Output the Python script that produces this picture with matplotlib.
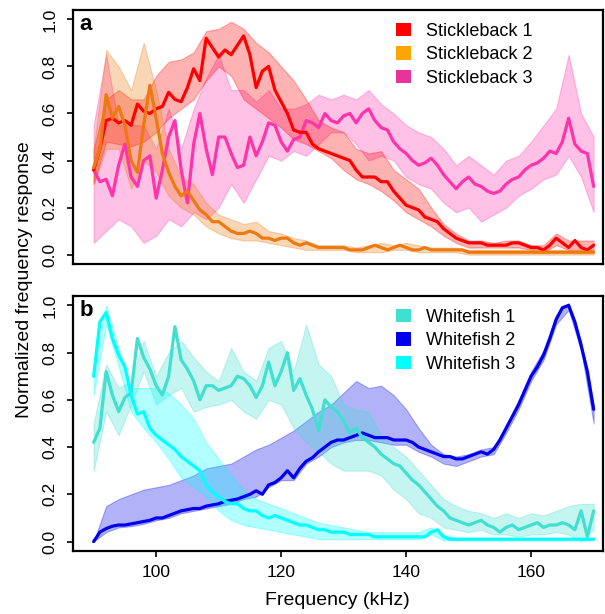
import matplotlib
matplotlib.use("Agg")
import matplotlib.pyplot as plt
from matplotlib.patches import Patch

plt.rcParams["font.family"] = ["Liberation Sans", "DejaVu Sans"]

freq = list(range(90, 171))
band_freq = list(range(90, 171, 2))

# ---- panel a: stickleback ----
stk1 = [0.36, 0.45, 0.57, 0.58, 0.56, 0.57, 0.55, 0.64, 0.61, 0.60,
        0.62, 0.63, 0.69, 0.66, 0.65, 0.71, 0.79, 0.74, 0.92, 0.88,
        0.84, 0.87, 0.85, 0.89, 0.93, 0.85, 0.71, 0.78, 0.80, 0.70,
        0.65, 0.60, 0.53, 0.52, 0.52, 0.47, 0.45, 0.44, 0.43, 0.42,
        0.41, 0.40, 0.36, 0.33, 0.33, 0.33, 0.31, 0.31, 0.27, 0.24,
        0.21, 0.20, 0.19, 0.16, 0.15, 0.14, 0.11, 0.09, 0.07, 0.06,
        0.05, 0.05, 0.05, 0.04, 0.04, 0.04, 0.04, 0.05, 0.05, 0.04,
        0.03, 0.03, 0.02, 0.04, 0.07, 0.05, 0.03, 0.06, 0.03, 0.02,
        0.04]
stk1_lo = [0.30, 0.48, 0.47, 0.46, 0.48, 0.52, 0.58, 0.62, 0.66, 0.74,
           0.80, 0.76, 0.66, 0.62, 0.58, 0.54, 0.49, 0.47, 0.44, 0.41,
           0.36, 0.32, 0.30, 0.27, 0.23, 0.18, 0.15, 0.12, 0.08, 0.05,
           0.03, 0.03, 0.03, 0.03, 0.03, 0.02, 0.01, 0.04, 0.02, 0.01,
           0.02]
stk1_hi = [0.45, 0.66, 0.70, 0.66, 0.66, 0.76, 0.82, 0.83, 0.86, 0.95,
           0.96, 0.99, 0.96, 0.90, 0.86, 0.80, 0.74, 0.66, 0.57, 0.54,
           0.52, 0.45, 0.43, 0.44, 0.36, 0.32, 0.28, 0.20, 0.13, 0.09,
           0.06, 0.06, 0.05, 0.06, 0.06, 0.04, 0.04, 0.09, 0.06, 0.06,
           0.06]

stk2 = [0.37, 0.45, 0.68, 0.58, 0.63, 0.55, 0.40, 0.35, 0.55, 0.72,
        0.58, 0.43, 0.35, 0.29, 0.25, 0.27, 0.23, 0.19, 0.17, 0.14,
        0.14, 0.12, 0.10, 0.09, 0.09, 0.10, 0.09, 0.07, 0.07, 0.06,
        0.07, 0.07, 0.05, 0.04, 0.05, 0.04, 0.03, 0.03, 0.03, 0.03,
        0.03, 0.02, 0.02, 0.02, 0.03, 0.04, 0.03, 0.02, 0.03, 0.04,
        0.03, 0.02, 0.02, 0.03, 0.02, 0.02, 0.02, 0.02, 0.02, 0.02,
        0.01, 0.01, 0.01, 0.01, 0.01, 0.01, 0.01, 0.01, 0.01, 0.01,
        0.01, 0.01, 0.01, 0.01, 0.01, 0.01, 0.01, 0.01, 0.01, 0.01,
        0.01]
stk2_lo = [0.30, 0.45, 0.45, 0.28, 0.40, 0.35, 0.25, 0.20, 0.17, 0.12,
           0.09, 0.07, 0.06, 0.06, 0.05, 0.04, 0.03, 0.02, 0.02, 0.02,
           0.02, 0.01, 0.01, 0.01, 0.02, 0.02, 0.01, 0.01, 0.01, 0.01,
           0.00, 0.00, 0.00, 0.00, 0.00, 0.00, 0.00, 0.00, 0.00, 0.00,
           0.00]
stk2_hi = [0.45, 0.87, 0.80, 0.70, 0.90, 0.70, 0.45, 0.33, 0.30, 0.22,
           0.17, 0.15, 0.13, 0.14, 0.10, 0.09, 0.07, 0.06, 0.04, 0.04,
           0.04, 0.03, 0.04, 0.05, 0.04, 0.05, 0.04, 0.03, 0.03, 0.03,
           0.02, 0.02, 0.02, 0.02, 0.02, 0.02, 0.02, 0.02, 0.02, 0.02,
           0.02]

stk3 = [0.36, 0.31, 0.32, 0.25, 0.38, 0.47, 0.33, 0.29, 0.40, 0.42,
        0.24, 0.36, 0.50, 0.57, 0.36, 0.22, 0.47, 0.60, 0.45, 0.34,
        0.50, 0.50, 0.43, 0.37, 0.38, 0.50, 0.42, 0.48, 0.56, 0.55,
        0.48, 0.44, 0.49, 0.50, 0.57, 0.56, 0.54, 0.60, 0.57, 0.56,
        0.59, 0.60, 0.56, 0.60, 0.62, 0.57, 0.54, 0.53, 0.48, 0.45,
        0.43, 0.40, 0.38, 0.39, 0.41, 0.38, 0.34, 0.31, 0.28, 0.31,
        0.33, 0.30, 0.29, 0.27, 0.26, 0.27, 0.30, 0.32, 0.33, 0.36,
        0.38, 0.39, 0.41, 0.44, 0.43, 0.48, 0.58, 0.47, 0.44, 0.43,
        0.29]
stk3_lo = [0.05, 0.10, 0.15, 0.12, 0.05, 0.08, 0.15, 0.12, 0.18, 0.15,
           0.20, 0.30, 0.22, 0.32, 0.42, 0.40, 0.44, 0.42, 0.47, 0.52,
           0.52, 0.47, 0.40, 0.42, 0.40, 0.33, 0.30, 0.28, 0.22, 0.18,
           0.20, 0.14, 0.17, 0.20, 0.25, 0.28, 0.32, 0.34, 0.42, 0.33,
           0.18]
stk3_hi = [0.55, 0.85, 0.55, 0.55, 0.55, 0.45, 0.62, 0.45, 0.62, 0.75,
           0.85, 0.70, 0.70, 0.65, 0.70, 0.62, 0.62, 0.64, 0.68, 0.66,
           0.68, 0.66, 0.70, 0.64, 0.60, 0.55, 0.52, 0.50, 0.45, 0.38,
           0.42, 0.38, 0.34, 0.40, 0.42, 0.48, 0.55, 0.62, 0.85, 0.60,
           0.50]

# ---- panel b: whitefish ----
wf1 = [0.42, 0.48, 0.72, 0.62, 0.55, 0.61, 0.63, 0.86, 0.78, 0.73,
       0.66, 0.62, 0.70, 0.91, 0.77, 0.73, 0.68, 0.60, 0.66, 0.66,
       0.64, 0.65, 0.66, 0.70, 0.69, 0.66, 0.61, 0.66, 0.76, 0.66,
       0.72, 0.80, 0.64, 0.69, 0.62, 0.56, 0.47, 0.60, 0.57, 0.55,
       0.51, 0.46, 0.48, 0.44, 0.42, 0.40, 0.37, 0.35, 0.33, 0.32,
       0.29, 0.26, 0.24, 0.21, 0.18, 0.15, 0.13, 0.10, 0.09, 0.08,
       0.07, 0.08, 0.09, 0.07, 0.06, 0.04, 0.06, 0.07, 0.05, 0.06,
       0.07, 0.08, 0.06, 0.07, 0.07, 0.08, 0.07, 0.05, 0.13, 0.02,
       0.13]
wf1_lo = [0.30, 0.55, 0.45, 0.58, 0.72, 0.58, 0.62, 0.65, 0.55, 0.57,
          0.58, 0.60, 0.55, 0.52, 0.60, 0.58, 0.48, 0.42, 0.38, 0.33,
          0.30, 0.30, 0.30, 0.28, 0.22, 0.18, 0.12, 0.10, 0.06, 0.05,
          0.04, 0.05, 0.03, 0.03, 0.02, 0.03, 0.03, 0.04, 0.03, 0.00,
          0.05]
wf1_hi = [0.50, 0.75, 0.65, 0.68, 0.85, 0.70, 0.80, 0.85, 0.78, 0.72,
          0.68, 0.82, 0.72, 0.68, 0.82, 0.85, 0.72, 0.92, 0.75, 0.70,
          0.58, 0.56, 0.55, 0.45, 0.40, 0.36, 0.30, 0.24, 0.18, 0.15,
          0.13, 0.12, 0.10, 0.12, 0.10, 0.12, 0.11, 0.13, 0.15, 0.16,
          0.16]

wf2 = [0.00, 0.04, 0.055, 0.065, 0.07, 0.07, 0.075, 0.08, 0.085, 0.09,
       0.10, 0.10, 0.11, 0.12, 0.13, 0.135, 0.14, 0.14, 0.15, 0.155,
       0.16, 0.17, 0.175, 0.18, 0.19, 0.20, 0.215, 0.20, 0.24, 0.25,
       0.27, 0.30, 0.27, 0.31, 0.34, 0.355, 0.38, 0.40, 0.42, 0.43,
       0.43, 0.44, 0.45, 0.46, 0.45, 0.44, 0.44, 0.44, 0.43, 0.43,
       0.43, 0.42, 0.40, 0.39, 0.38, 0.37, 0.36, 0.36, 0.35, 0.35,
       0.36, 0.37, 0.38, 0.37, 0.39, 0.43, 0.48, 0.53, 0.58, 0.64,
       0.70, 0.74, 0.79, 0.86, 0.94, 0.99, 1.00, 0.93, 0.83, 0.72,
       0.56]
wf2_lo = [0.00, 0.04, 0.06, 0.065, 0.075, 0.09, 0.10, 0.12, 0.13, 0.14,
          0.15, 0.16, 0.18, 0.19, 0.23, 0.26, 0.26, 0.33, 0.36, 0.40,
          0.42, 0.43, 0.43, 0.42, 0.41, 0.41, 0.38, 0.36, 0.33, 0.32,
          0.34, 0.36, 0.37, 0.46, 0.56, 0.68, 0.77, 0.92, 0.98, 0.81,
          0.50]
wf2_hi = [0.00, 0.15, 0.18, 0.20, 0.22, 0.23, 0.24, 0.26, 0.28, 0.31,
          0.32, 0.33, 0.36, 0.39, 0.41, 0.44, 0.47, 0.51, 0.55, 0.58,
          0.63, 0.68, 0.65, 0.66, 0.62, 0.56, 0.48, 0.41, 0.37, 0.36,
          0.37, 0.39, 0.40, 0.49, 0.60, 0.72, 0.81, 0.96, 1.01, 0.85,
          0.58]

wf3 = [0.70, 0.93, 0.97, 0.86, 0.79, 0.74, 0.62, 0.54, 0.55, 0.48,
       0.45, 0.43, 0.41, 0.39, 0.36, 0.34, 0.32, 0.30, 0.24, 0.21,
       0.19, 0.17, 0.16, 0.16, 0.14, 0.13, 0.13, 0.11, 0.10, 0.11,
       0.10, 0.09, 0.08, 0.07, 0.07, 0.06, 0.05, 0.05, 0.04, 0.04,
       0.04, 0.03, 0.03, 0.03, 0.03, 0.02, 0.02, 0.02, 0.02, 0.02,
       0.02, 0.02, 0.02, 0.02, 0.04, 0.05, 0.02, 0.01, 0.01, 0.01,
       0.01, 0.01, 0.01, 0.01, 0.01, 0.01, 0.01, 0.01, 0.01, 0.01,
       0.01, 0.01, 0.01, 0.01, 0.01, 0.01, 0.01, 0.01, 0.01, 0.01,
       0.01]
wf3_lo = [0.62, 0.92, 0.74, 0.55, 0.48, 0.42, 0.35, 0.27, 0.23, 0.19,
          0.13, 0.09, 0.07, 0.06, 0.05, 0.04, 0.03, 0.02, 0.01, 0.01,
          0.01, 0.01, 0.01, 0.01, 0.01, 0.01, 0.01, 0.03, 0.005, 0.005,
          0.005, 0.005, 0.005, 0.005, 0.005, 0.005, 0.005, 0.005, 0.005, 0.005,
          0.005]
wf3_hi = [0.75, 1.00, 0.82, 0.65, 0.65, 0.65, 0.63, 0.58, 0.52, 0.42,
          0.35, 0.28, 0.22, 0.18, 0.16, 0.14, 0.12, 0.10, 0.08, 0.07,
          0.06, 0.05, 0.04, 0.04, 0.04, 0.04, 0.04, 0.06, 0.03, 0.015,
          0.015, 0.015, 0.015, 0.015, 0.015, 0.015, 0.015, 0.015, 0.015, 0.015,
          0.015]

panel_a = [("Stickleback 3", stk3, stk3_lo, stk3_hi, "#ff33aa", "#e8339a"),
           ("Stickleback 1", stk1, stk1_lo, stk1_hi, "#ff0000", "#ff0000"),
           ("Stickleback 2", stk2, stk2_lo, stk2_hi, "#ec7a10", "#ffa500")]
panel_b = [("Whitefish 2", wf2, wf2_lo, wf2_hi, "#0000ee", "#0000ee"),
           ("Whitefish 1", wf1, wf1_lo, wf1_hi, "#40e0d0", "#40e0d0"),
           ("Whitefish 3", wf3, wf3_lo, wf3_hi, "#00ffff", "#00ffff")]
order_a = ["Stickleback 1", "Stickleback 2", "Stickleback 3"]
order_b = ["Whitefish 1", "Whitefish 2", "Whitefish 3"]

fig = plt.figure(figsize=(6.05, 6.14), dpi=100)
ax_a = fig.add_axes([0.1207, 0.570, 0.876, 0.4137])
ax_b = fig.add_axes([0.1207, 0.1026, 0.876, 0.4154])


def draw(ax, series, order, letter):
    for name, m, lo, hi, c, lc in series:
        ax.fill_between(band_freq, lo, hi, facecolor=c, alpha=0.3,
                        edgecolor=c, linewidth=0.8)
    for name, m, lo, hi, c, lc in series:
        ax.plot(freq, m, color=c, lw=2.3, solid_joinstyle="round",
                solid_capstyle="round")
    cols = {s[0]: s[5] for s in series}
    handles = [Patch(facecolor=cols[n], edgecolor="none", label=n) for n in order]
    ax.legend(handles=handles, loc="upper left", bbox_to_anchor=(0.585, 1.0),
              frameon=False, fontsize=13, handlelength=0.85, handleheight=0.8,
              handletextpad=0.85, labelspacing=0.35, borderaxespad=0.3)
    ax.text(0.012, 0.985, letter, transform=ax.transAxes, fontsize=16,
            fontweight="bold", va="top", ha="left")
    ax.set_xlim(86.7, 171.5)
    ax.set_ylim(-0.04, 1.04)
    ax.set_yticks([0.0, 0.2, 0.4, 0.6, 0.8, 1.0])
    ax.set_yticklabels(["0.0", "0.2", "0.4", "0.6", "0.8", "1.0"],
                       rotation=90, va="center")
    ax.tick_params(axis="y", direction="out", length=4, width=1.2,
                   labelsize=12.5, pad=7)
    for sp in ax.spines.values():
        sp.set_linewidth(1.6)


draw(ax_a, panel_a, order_a, "a")
draw(ax_b, panel_b, order_b, "b")

ax_a.set_xticks([])
ax_b.set_xticks([100, 120, 140, 160])
ax_b.tick_params(axis="x", direction="out", length=4, width=1.2,
                 labelsize=12.5, pad=6)

fig.text(0.04, 0.545, "Normalized frequency response", rotation=90,
         ha="center", va="center", fontsize=14)
fig.text(0.558, 0.022, "Frequency (kHz)", ha="center", va="center", fontsize=14)

fig.savefig("out.png", dpi=100)
